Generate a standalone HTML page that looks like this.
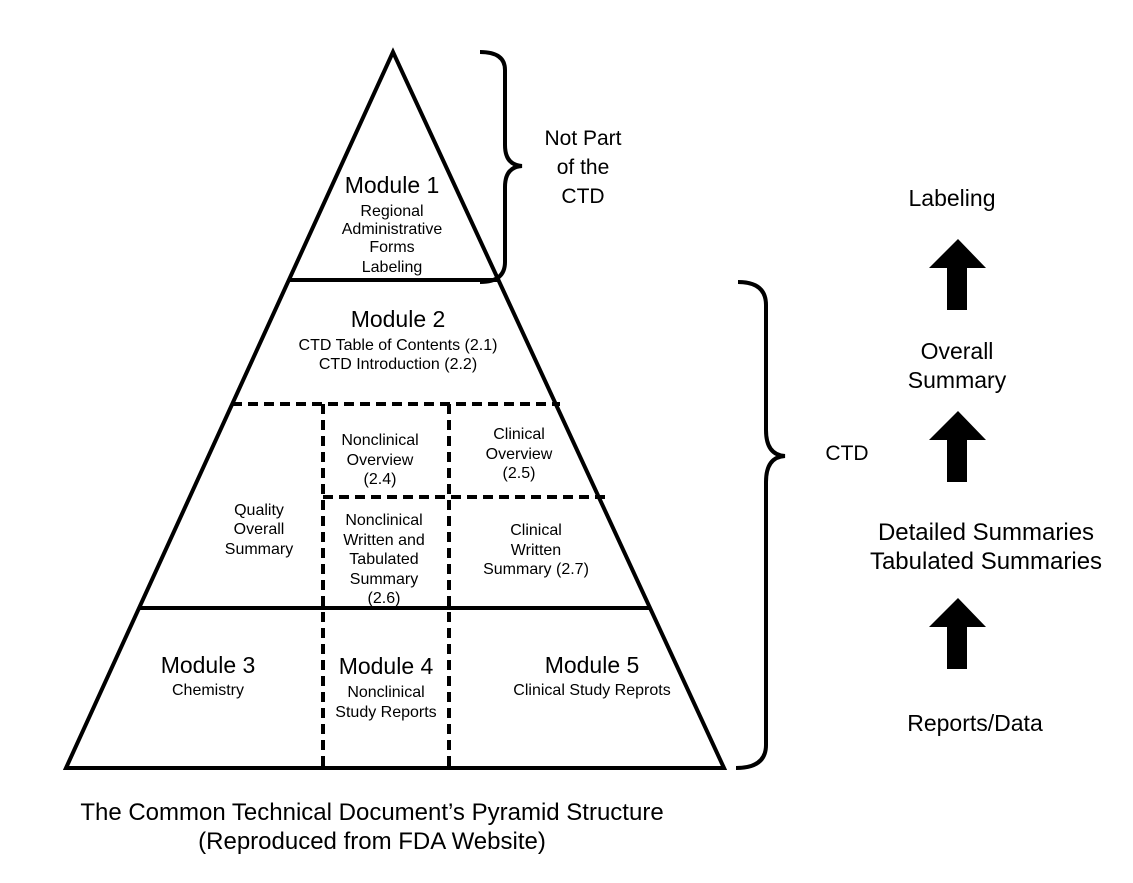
<!DOCTYPE html>
<html><head><style>body{margin:0;background:#fff}svg{display:block}text{font-family:"Liberation Sans",sans-serif;fill:#000}</style></head><body>
<svg width="1133" height="883" viewBox="0 0 1133 883">
<g stroke="#000" stroke-width="4" fill="none">
<polygon points="393,52 66,768 724,768" stroke-linejoin="miter"/>
<line x1="289" y1="280" x2="498" y2="280"/>
<line x1="139" y1="608" x2="650" y2="608"/>
<g stroke-dasharray="10,6">
<line x1="232" y1="404" x2="560" y2="404"/>
<line x1="323" y1="497" x2="611" y2="497"/>
<line x1="323" y1="404" x2="323" y2="768"/>
<line x1="449" y1="404" x2="449" y2="768"/>
</g>
<path d="M480,52 Q505,52 505,70 L505,145 Q505,165 522,166 Q505,167 505,187 L505,262 Q505,282 480,282"/>
<path d="M738,282 Q766,282 766,305 L766,430 Q766,455 785,456 Q766,457 766,482 L766,745 Q766,768 736,768"/>
</g>
<g fill="#000">
<polygon points="958,239 986,268 967,268 967,310 947,310 947,268 929,268"/>
<polygon points="958,411 986,440 967,440 967,482 947,482 947,440 929,440"/>
<polygon points="958,598 986,627 967,627 967,669 947,669 947,627 929,627"/>
</g>
<g text-anchor="middle" font-size="16">
<text x="392" y="193" font-size="23">Module 1</text>
<text x="392" y="216">Regional</text>
<text x="392" y="234">Administrative</text>
<text x="392" y="252">Forms</text>
<text x="392" y="272">Labeling</text>
<text x="398" y="327" font-size="23">Module 2</text>
<text x="398" y="350">CTD Table of Contents (2.1)</text>
<text x="398" y="369">CTD Introduction (2.2)</text>
<text x="380" y="445">Nonclinical</text>
<text x="380" y="465">Overview</text>
<text x="380" y="484">(2.4)</text>
<text x="519" y="439">Clinical</text>
<text x="519" y="459">Overview</text>
<text x="519" y="478">(2.5)</text>
<text x="259" y="515">Quality</text>
<text x="259" y="534">Overall</text>
<text x="259" y="554">Summary</text>
<text x="384" y="525">Nonclinical</text>
<text x="384" y="545">Written and</text>
<text x="384" y="564">Tabulated</text>
<text x="384" y="584">Summary</text>
<text x="384" y="603">(2.6)</text>
<text x="536" y="535">Clinical</text>
<text x="536" y="555">Written</text>
<text x="536" y="574">Summary (2.7)</text>
<text x="208" y="673" font-size="23">Module 3</text>
<text x="208" y="695">Chemistry</text>
<text x="386" y="674" font-size="23">Module 4</text>
<text x="386" y="697">Nonclinical</text>
<text x="386" y="717">Study Reports</text>
<text x="592" y="673" font-size="23">Module 5</text>
<text x="592" y="695">Clinical Study Reprots</text>
<text x="583" y="145" font-size="21">Not Part</text>
<text x="583" y="174" font-size="21">of the</text>
<text x="583" y="203" font-size="21">CTD</text>
<text x="847" y="460" font-size="21">CTD</text>
<text x="952" y="206" font-size="23">Labeling</text>
<text x="957" y="359" font-size="23">Overall</text>
<text x="957" y="388" font-size="23">Summary</text>
<text x="986" y="540" font-size="24">Detailed Summaries</text>
<text x="986" y="569" font-size="24">Tabulated Summaries</text>
<text x="975" y="731" font-size="23">Reports/Data</text>
<text x="372" y="820" font-size="24">The Common Technical Document’s Pyramid Structure</text>
<text x="372" y="849" font-size="24">(Reproduced from FDA Website)</text>
</g>
</svg>
</body></html>
